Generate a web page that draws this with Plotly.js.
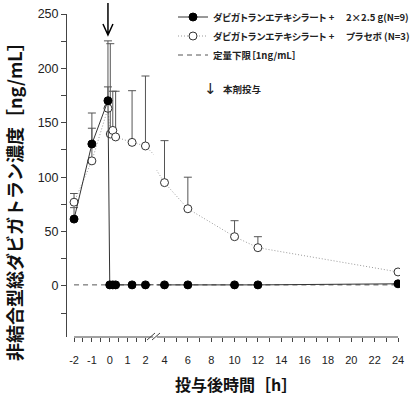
<!DOCTYPE html>
<html><head><meta charset="utf-8">
<script src="https://cdn.plot.ly/plotly-3.0.1.min.js"></script>
<style>html,body{margin:0;padding:0;background:#fff}#chart{width:414px;height:398px}
.legendtext{font-feature-settings:"palt" 1;}</style>
</head><body><div id="chart"></div>
<script>
// ---- data ----
const timesA = [-2, -1, -0.1, 0, 0.17, 0.33, 1.25, 2, 4, 6, 10, 12, 24];
const concA  = [61.5, 130.5, 170.3, 1, 1, 1, 1, 1, 1, 1, 1, 1, 2];
const sdA    = [10.5, 28.5, 12.7, 0, 0, 0, 0, 0, 0, 0, 0, 0, 0];
const timesB = [-2, -1, -0.1, 0.03, 0.17, 0.33, 1.25, 2, 4, 6, 10, 12, 24];
const concB  = [77, 115, 163.3, 139.7, 143, 137, 132, 128.7, 95, 71, 45.3, 35.2, 12.9];
const sdB    = [8, 30, 62, 83, 36, 42, 47.5, 64.3, 38.6, 29, 14.7, 10.1, 0];
const lloqX  = [-2, 24];
const lloqY  = [1, 1];
const nameA = 'ダビガトランエテキシラート + \u30002×2.5 g(N=9)';
const nameB = 'ダビガトランエテキシラート + \u3000プラセボ (N=3)';
const nameL = '定量下限［1ng/mL］';
const doseLabel = '本剤投与';
const doseTime = -0.1;
const xTicks1 = [-2, -1, 0, 1, 2];
const xTicks2 = [4, 6, 8, 10, 12, 14, 16, 18, 20, 22, 24];
const yTicks  = [0, 50, 100, 150, 200, 250];
const yTitle = '非結合型総ダビガトラン濃度［ng/mL］';
const xTitle = '投与後時間［h］';

// ---- layout geometry ----
const W = 414, H = 398, L = 67, R = 14, T = 14, B = 61;
const pw = W - L - R, ph = H - T - B;
const px = v => (v - L) / pw;
const py = v => (H - B - v) / ph;
const CJK = '"Noto Sans CJK JP", "Noto Sans", sans-serif';
const NUM = '"Liberation Sans", Arial, sans-serif';
const axC = '#444';

function seriesA(xa, show) {
  return {x: timesA, y: concA, xaxis: xa, yaxis: 'y', name: nameA, showlegend: show,
    type: 'scatter', mode: 'lines+markers', cliponaxis: true,
    line: {color: '#333', width: 1},
    marker: {symbol: 'circle', size: 8, color: '#000', line: {color: '#000', width: 1}},
    error_y: {type: 'data', array: sdA, arrayminus: sdA.map(() => 0), symmetric: false,
      color: '#555', thickness: 1, width: 4}};
}
function seriesB(xa, show) {
  return {x: timesB, y: concB, xaxis: xa, yaxis: 'y', name: nameB, showlegend: show,
    type: 'scatter', mode: 'lines+markers', cliponaxis: true,
    line: {color: '#999', width: 1, dash: '1px,2px'},
    marker: {symbol: 'circle', size: 8, color: '#fff', line: {color: '#333', width: 1}},
    error_y: {type: 'data', array: sdB, arrayminus: sdB.map(() => 0), symmetric: false,
      color: '#555', thickness: 1, width: 4}};
}
function seriesL(xa, show) {
  return {x: lloqX, y: lloqY, xaxis: xa, yaxis: 'y', name: nameL, showlegend: show,
    type: 'scatter', mode: 'lines', line: {color: '#555', width: 1, dash: '5px,4px'}};
}

const data = [seriesL('x', true), seriesL('x2', false),
              seriesB('x', true), seriesB('x2', false),
              seriesA('x', true), seriesA('x2', false)];
data[4].legendrank = 1; data[2].legendrank = 2; data[0].legendrank = 3;

const xCommon = {showline: false, zeroline: false, showgrid: false, ticks: 'outside', ticklen: 4,
  tickwidth: 1, tickcolor: axC, tickfont: {family: NUM, size: 11, color: '#222'}, anchor: 'y',
  ticklabelstandoff: 9};

const layout = {
  width: W, height: H, margin: {l: L, r: R, t: T, b: B, autoexpand: false},
  paper_bgcolor: '#fff', plot_bgcolor: '#fff',
  showlegend: true,
  legend: {x: px(173), xanchor: 'left', y: py(2.5), yanchor: 'top', bgcolor: 'rgba(0,0,0,0)',
    font: {family: CJK, size: 9.5, color: '#222', weight: 'bold'}, tracegroupgap: 0, traceorder: 'normal'},
  xaxis: Object.assign({}, xCommon, {domain: [0, px(153.5)], range: [-2.394, 2.45],
    tickvals: xTicks1, ticktext: xTicks1.map(String),
    minor: {dtick: 0.5, tick0: -2, ticks: 'outside', ticklen: 4, tickcolor: axC, tickwidth: 1}}),
  xaxis2: Object.assign({}, xCommon, {domain: [px(156.5), 1], range: [3.315, 24.17],
    tickvals: xTicks2, ticktext: xTicks2.map(String),
    minor: {dtick: 1, tick0: 0, ticks: 'outside', ticklen: 4, tickcolor: axC, tickwidth: 1}}),
  yaxis: {range: [-46.9, 250], showline: true, linecolor: axC, linewidth: 1, zeroline: false,
    showgrid: false, ticks: 'outside', ticklen: 5, tickcolor: axC, tickvals: yTicks,
    tickfont: {family: NUM, size: 12.5, color: '#222'}, anchor: 'x',
    minor: {dtick: 25, tick0: 0, ticks: 'outside', ticklen: 5, tickcolor: axC, tickwidth: 1}},
  shapes: [
    {type: 'line', xref: 'x', yref: 'paper', x0: -2, x1: 2.45, y0: 0, y1: 0, line: {color: axC, width: 1}},
    {type: 'line', xref: 'x2', yref: 'paper', x0: 3.315, x1: 24, y0: 0, y1: 0, line: {color: axC, width: 1}},
    {type: 'line', xref: 'paper', yref: 'paper', x0: px(147), y0: py(340), x1: px(155), y1: py(333), line: {color: axC, width: 1}},
    {type: 'line', xref: 'paper', yref: 'paper', x0: px(152), y0: py(340), x1: px(160), y1: py(333), line: {color: axC, width: 1}},
    {type: 'path', xref: 'x', xsizemode: 'pixel', xanchor: doseTime, yref: 'paper', ysizemode: 'pixel', yanchor: py(35),
     path: 'M0,0 L0,32 M-5,11 L0,0 L5,11', line: {color: '#000', width: 1.5}}
  ],
  annotations: [
    {xref: 'paper', yref: 'paper', x: px(210), y: py(89), text: '↓', showarrow: false,
     font: {family: '"DejaVu Sans", sans-serif', size: 15, color: '#222'}, xanchor: 'center', yanchor: 'middle'},
    {xref: 'paper', yref: 'paper', x: px(221), y: py(89), text: doseLabel, showarrow: false,
     font: {family: CJK, size: 9.5, color: '#222', weight: 'bold'}, xanchor: 'left', yanchor: 'middle'},
    {xref: 'paper', yref: 'paper', x: px(236), y: py(384), text: xTitle, showarrow: false,
     font: {family: CJK, size: 16, color: '#111', weight: 'bold'}, xanchor: 'center', yanchor: 'middle'},
    {xref: 'paper', yref: 'paper', x: px(14), y: py(197), text: yTitle, showarrow: false, textangle: -90,
     font: {family: CJK, size: 18, color: '#111', weight: 'bold'}, xanchor: 'center', yanchor: 'middle'}
  ]
};

Plotly.newPlot('chart', data, layout, {staticPlot: true, displayModeBar: false});
</script>
</body></html>
